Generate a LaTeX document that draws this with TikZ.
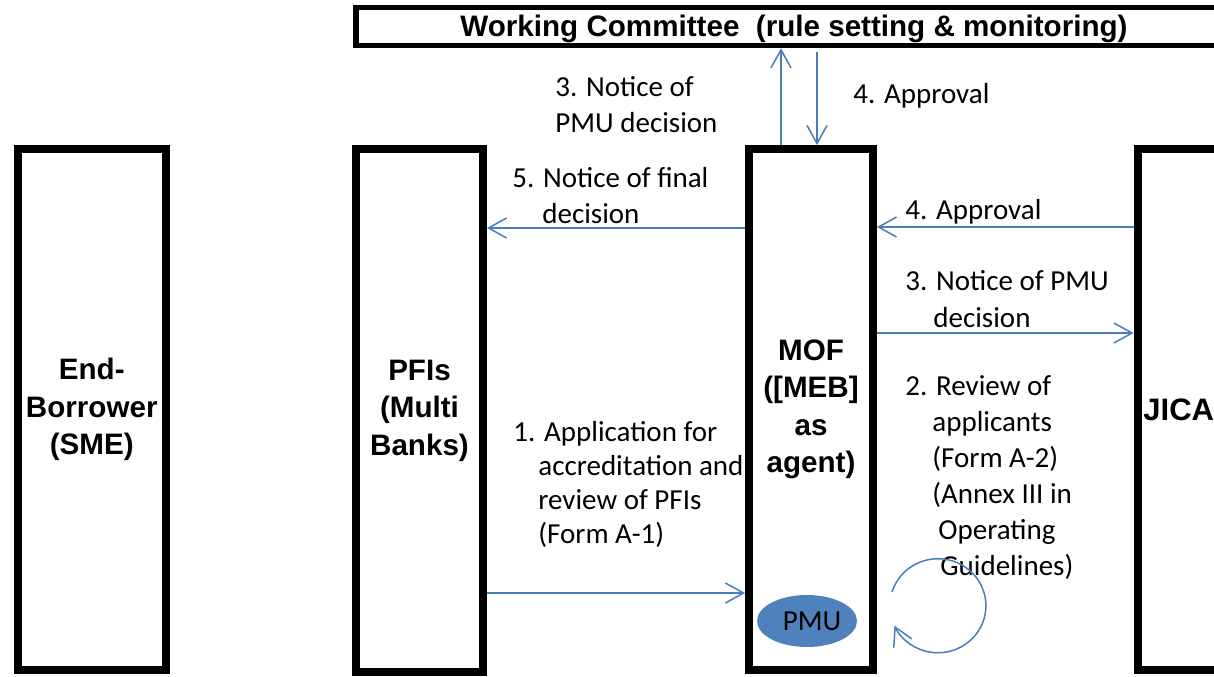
\documentclass[tikz,border=0pt]{standalone}
\usepackage{fontspec}
\setmainfont{Carlito}
\newfontfamily\arialfont{Liberation Sans}
\usetikzlibrary{arrows.meta,shapes.geometric}
\definecolor{flowblue}{HTML}{4A7EBB}
\definecolor{pmublue}{HTML}{4F81BD}
\begin{document}
\begin{tikzpicture}[x=0.5pt,y=-0.5pt,
  box/.style={draw=black, line width=4pt, rectangle, inner sep=0pt, align=center,
    font=\arialfont\bfseries\fontsize{14.8pt}{18.75pt}\selectfont},
  boldtext/.style={inner sep=0pt, font=\arialfont\bfseries\fontsize{14.8pt}{18.75pt}\selectfont},
  lbl/.style={inner sep=0pt, anchor=base west, align=left,
    font=\fontsize{14.5pt}{17.75pt}\selectfont},
  flow/.style={draw=flowblue, line width=0.75pt, -{Straight Barb[length=9pt,width=10pt]}}]
\useasboundingbox (0,0) rectangle (1214,676);
\clip (0,0) rectangle (1214,676);

% labels (anchored at the baseline of their last line)
\node[lbl] (l3a) at (555,132) {3. Notice of\\PMU decision};
\node[lbl] (l4a) at (853,103) {4. Approval};
\node[lbl] (l5) at (512,223) {5. Notice of final\\\hspace*{15pt}decision};
\node[lbl] (l4b) at (905,219) {4. Approval};
\node[lbl, font=\fontsize{14.5pt}{18.5pt}\selectfont] (l3b) at (905,327) {3. Notice of PMU\\\hspace*{14pt}decision};
\node[lbl, font=\fontsize{14.5pt}{18pt}\selectfont] (l2) at (905,575) {2. Review of\\\hspace*{13.5pt}applicants\\\hspace*{13.5pt}(Form A-2)\\\hspace*{13.5pt}(Annex III in\\\hspace*{16.5pt}Operating\\\hspace*{17.5pt}Guidelines)};
\node[lbl, font=\fontsize{14.5pt}{16.85pt}\selectfont] (l1) at (513,543) {1. Application for\\\hspace*{12.5pt}accreditation and\\\hspace*{12.5pt}review of PFIs\\\hspace*{12.5pt}(Form A-1)};

% boxes
\node[box, minimum width=74.25pt, minimum height=260.5pt] (eb) at (91.75,409.5) {End-\\Borrower\\(SME)};
\node[box, minimum width=63.5pt, minimum height=261.5pt] (pfi) at (419.5,410.5) {PFIs\\(Multi\\Banks)};
\node[box, minimum width=62pt, minimum height=260.5pt] (mof) at (811,409.5) {MOF\\([MEB]\\as\\agent)};
\node[box, minimum width=81.25pt, minimum height=260.5pt] (jica) at (1218.75,409.5) {};
\node[boldtext, anchor=west] (jicalbl) at (1143,410) {\fontsize{15.5pt}{18.75pt}\selectfont JICA};
\node[box, line width=2.75pt, minimum width=438pt, minimum height=19pt] (wc) at (794,26.5) {\raisebox{-4.75pt}[0pt][0pt]{Working Committee\ \ (rule setting \& monitoring)}};
\node[ellipse, fill=pmublue, minimum width=50pt, minimum height=26pt, inner sep=0pt,
  font=\fontsize{14.5pt}{17.75pt}\selectfont] (pmu) at (807,621) {\raisebox{-4pt}{\hspace*{5pt}PMU}};

% connectors
\draw[flow] (mof.north -| 781,0) -- (wc.south -| 781,0);
\draw[flow, shorten <=2pt] (wc.south -| 817,0) -- (mof.north -| 817,0);
\draw[flow] (mof.west |- 0,228) -- (pfi.east |- 0,228);
\draw[flow] (jica.west |- 0,227) -- (mof.east |- 0,227);
\draw[flow] (mof.east |- 0,333) -- (jica.west |- 0,333);
\draw[flow] (pfi.east |- 0,593) -- (mof.west |- 0,593);
\coordinate (loopstart) at (892,592);
\draw[flow] (loopstart) arc[start angle=163, end angle=-155, x radius=24pt, y radius=23.5pt];
\end{tikzpicture}
\end{document}
